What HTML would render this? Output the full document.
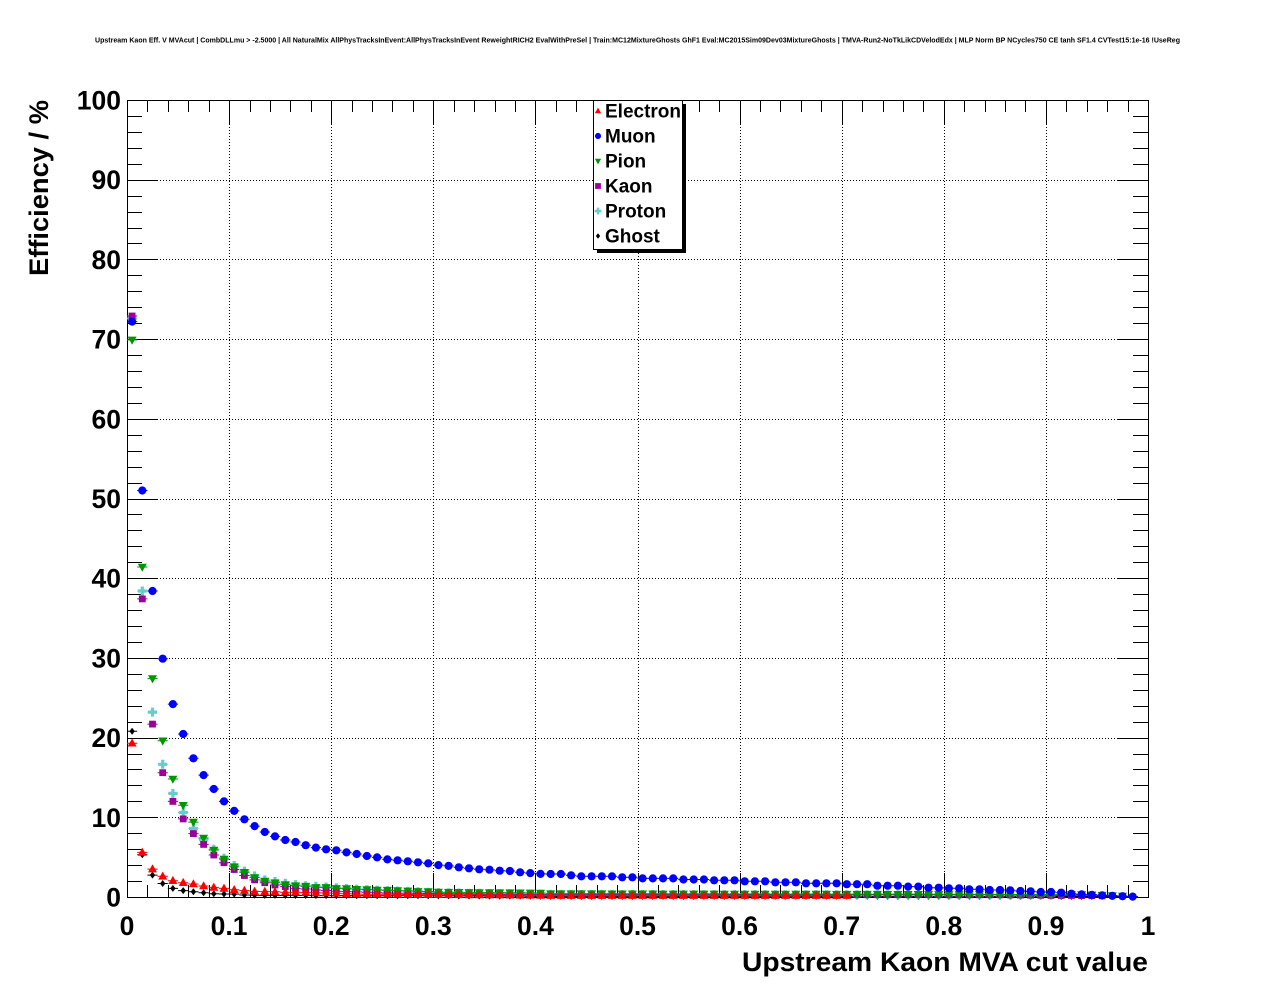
<!DOCTYPE html>
<html><head><meta charset="utf-8">
<style>html,body{margin:0;padding:0;background:#fff;overflow:hidden}svg{display:block}</style>
</head>
<body>
<svg id="s" width="1276" height="996" viewBox="0 0 1276 996" xmlns="http://www.w3.org/2000/svg" font-family="'Liberation Sans', Arial, sans-serif" font-weight="bold">
<rect width="1276" height="996" fill="#fff"/>
<text x="637.5" y="42.5" font-size="7" text-anchor="middle" textLength="1085" lengthAdjust="spacingAndGlyphs">Upstream Kaon Eff. V MVAcut | CombDLLmu &gt; -2.5000 | All NaturalMix AllPhysTracksInEvent:AllPhysTracksInEvent ReweightRICH2 EvalWithPreSel | Train:MC12MixtureGhosts GhF1 Eval:MC2015Sim09Dev03MixtureGhosts | TMVA-Run2-NoTkLikCDVelodEdx | MLP Norm BP NCycles750 CE tanh SF1.4 CVTest15:1e-16 !UseReg</text>
<g id="grid"></g>
<g id="ticks"></g>
<rect x="127.5" y="100.5" width="1021" height="797" fill="none" stroke="#000" stroke-width="1"/>
<g id="labels" font-size="26.5"></g>
<text x="1148" y="971" font-size="26.5" text-anchor="end" textLength="406" lengthAdjust="spacingAndGlyphs">Upstream Kaon MVA cut value</text>
<text transform="translate(48,100) rotate(-90)" font-size="26.5" text-anchor="end" textLength="176" lengthAdjust="spacingAndGlyphs">Efficiency / %</text>
<g id="data"></g>
<g id="legend">
<rect x="597" y="104" width="89" height="149" fill="#000"/>
<rect x="593.5" y="100.5" width="89" height="149" fill="#fff" stroke="#000" stroke-width="1"/>
<g font-size="19">
<text x="605" y="117.5">Electron</text>
<text x="605" y="142.5">Muon</text>
<text x="605" y="167.5">Pion</text>
<text x="605" y="192.5">Kaon</text>
<text x="605" y="217.5">Proton</text>
<text x="605" y="242.5">Ghost</text>
</g>
<g id="legm"></g>
</g>
</svg>
<script>
(function(){
const X0=127,X1=1148,Y0=897,Y1=100,W=X1-X0,H=Y0-Y1;
const xp=v=>X0+v*W, yp=v=>Y0-v/100*H;
const r1=v=>(Math.round(v)+0.5).toFixed(1);
let g='';
for(let i=1;i<10;i++){const x=r1(xp(i/10));g+=`M${x} ${Y1}V${Y0}`;}
for(let j=1;j<10;j++){const y=r1(yp(j*10));g+=`M${X0} ${y}H${X1}`;}
document.getElementById('grid').innerHTML=`<path d="${g}" stroke="#000" stroke-width="1" stroke-dasharray="1 2" fill="none"/>`;
let t='';
for(let k=0;k<=50;k++){const x=r1(xp(k/50));const L=k%5==0?24:12;t+=`M${x} ${Y0}V${Y0-L}M${x} ${Y1}V${Y1+L}`;}
for(let k=0;k<=50;k++){const y=r1(yp(k*2));const L=k%5==0?31:15;t+=`M${X0} ${y}H${X0+L}M${X1} ${y}H${X1-L}`;}
document.getElementById('ticks').innerHTML=`<path d="${t}" stroke="#000" stroke-width="1" fill="none"/>`;
let l='';
for(let j=0;j<=10;j++){const y=yp(j*10);l+=`<text x="121" y="${(y+9.5).toFixed(1)}" text-anchor="end">${j*10}</text>`;}
const xl=['0','0.1','0.2','0.3','0.4','0.5','0.6','0.7','0.8','0.9','1'];
for(let i=0;i<=10;i++){const x=xp(i/10);l+=`<text x="${x.toFixed(1)}" y="935" text-anchor="middle">${xl[i]}</text>`;}
document.getElementById('labels').innerHTML=l;

function lin(arr,a,b,i0,i1){for(let i=i0;i<=i1;i++){arr[i]=a+(b-a)*(i-i0)/Math.max(1,i1-i0);}}
const muon=[72.2,51.0,38.4,29.9,24.2,20.45,17.4,15.3,13.55,12.0,10.8,9.75,8.9,8.15,7.6,7.15,6.9,6.5,6.2,5.98,5.86,5.6,5.4,5.14,4.97,4.72,4.6,4.48,4.35,4.22,4.0,3.9,3.73,3.6,3.47,3.43,3.3,3.26,3.1,3.0,2.9,2.89,2.89,2.72,2.6,2.6,2.6,2.6,2.47,2.47,2.34,2.34,2.34,2.34,2.2,2.2,2.2,2.1,2.1,2.1,1.97,1.97,1.97,1.84,1.84,1.84,1.72,1.72,1.72,1.72,1.6,1.6,1.6,1.42,1.42,1.42,1.3,1.3,1.17,1.17,1.09,1.09,0.96,0.96,0.88,0.88,0.84,0.75,0.72,0.63,0.63,0.54,0.42,0.33,0.27,0.21,0.15,0.1,0.05];
const ele=[19.3,5.6,3.5,2.6,2.05,1.8,1.63,1.38,1.2,1.08,0.9,0.8,0.7,0.68,0.65,0.6,0.58,0.55,0.52,0.5,0.46,0.4];
lin(ele,0.36,0.2,22,40);lin(ele,0.17,0.17,41,70);
const pion=[69.9,41.4,27.4,19.6,14.8,11.5,9.4,7.4,5.9,4.77,3.8,3.1,2.45,2.0,1.8,1.55,1.42,1.35,1.2,1.2,1.08,1.05,0.96,0.94,0.88,0.85,0.8,0.77,0.7,0.68,0.62];
lin(pion,0.6,0.5,31,40);lin(pion,0.42,0.3,41,93);pion[94]=0.27;pion[95]=0.22;pion[96]=0.17;pion[97]=0.12;
const kaon=[72.9,37.4,21.7,15.6,12.0,9.8,7.95,6.6,5.27,4.3,3.45,2.7,2.15,1.8,1.5,1.3,1.08,1.0,0.88,0.8,0.72];
lin(kaon,0.68,0.5,21,25);lin(kaon,0.48,0.3,26,40);lin(kaon,0.3,0.28,41,85);lin(kaon,0.25,0.15,86,95);
const prot=[72.6,38.4,23.2,16.65,13.0,10.6,8.6,7.2,6.0,4.85,3.95,3.25,2.65,2.15,1.95,1.72,1.55,1.42,1.35,1.25,1.15];
lin(prot,1.05,0.8,21,25);lin(prot,0.75,0.55,26,30);lin(prot,0.52,0.35,31,40);lin(prot,0.33,0.25,41,90);
const ghost=[20.8,5.3,2.75,1.7,1.08,0.8,0.67,0.54,0.4,0.38,0.36,0.25,0.22];
lin(ghost,0.2,0.1,13,40);lin(ghost,0.08,0.06,41,98);

function mk(type,x,y,c,s){
  s=s||1;
  switch(type){
    case 'tu':{const a=4.5*s,h1=4.8*s,h2=3.3*s;return `<polygon points="${x},${y-h1} ${x-a},${y+h2} ${x+a},${y+h2}" fill="${c}"/>`;}
    case 'td':{const a=4.5*s,h1=4.8*s,h2=3.3*s;return `<polygon points="${x},${y+h1} ${x-a},${y-h2} ${x+a},${y-h2}" fill="${c}"/>`;}
    case 'c':return `<circle cx="${x}" cy="${y}" r="${4.1*s}" fill="${c}"/>`;
    case 'sq':{const a=3.4*s;return `<rect x="${x-a}" y="${y-a}" width="${2*a}" height="${2*a}" fill="${c}"/>`;}
    case 'x':{const a=4.5*s,b=1.6*s;return `<path d="M${x-a} ${y-b}H${x-b}V${y-a}H${x+b}V${y-b}H${x+a}V${y+b}H${x+b}V${y+a}H${x-b}V${y+b}H${x-a}Z" fill="${c}"/>`;}
    case 'd':{const a=2.7*s,b=3.5*s;return `<polygon points="${x},${y-b} ${x+a},${y} ${x},${y+b} ${x-a},${y}" fill="${c}"/>`;}
  }
}
const BW=W/100;
function series(arr,type,c){
  let s='';let lines='';
  for(let i=0;i<arr.length;i++){
    const v=arr[i];if(v==null)continue;
    const x=X0+(i+0.5)*BW,y=yp(v);
    lines+=`M${(x-BW/2).toFixed(1)} ${y.toFixed(1)}H${(x+BW/2).toFixed(1)}`;
    s+=mk(type,+x.toFixed(1),+y.toFixed(1),c);
  }
  return `<path d="${lines}" stroke="${c}" stroke-width="1" fill="none"/>`+s;
}
const CE='#ff0000',CM='#0000ff',CP='#009600',CK='#990099',CPr='#66cccc',CG='#000000';
let d='';
d+=series(ghost,'d',CG);
d+=series(prot,'x',CPr);
d+=series(kaon,'sq',CK);
d+=series(pion,'td',CP);
d+=series(muon,'c',CM);
d+=series(ele,'tu',CE);
document.getElementById('data').innerHTML=d;
let lm='';
lm+=mk('tu',598,111,CE,0.7);
lm+=mk('c',598,136,CM,0.75);
lm+=mk('td',598,161,CP,0.7);
lm+=mk('sq',598,186,CK,0.85);
lm+=mk('x',598,211,CPr,0.75);
lm+=mk('d',598,236,CG,0.8);
document.getElementById('legm').innerHTML=lm;
})();
</script>
</body></html>
